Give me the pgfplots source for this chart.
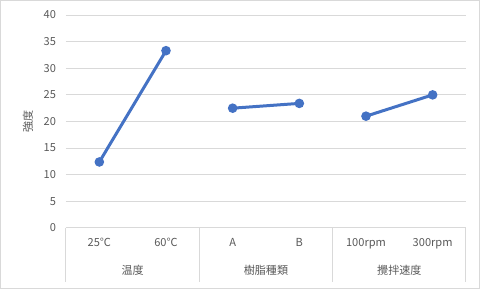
\documentclass[border=0pt]{standalone}
\usepackage{fontspec}
\setmainfont{Noto Sans CJK JP}
\usepackage{pgfplots}
\pgfplotsset{compat=1.18}
\definecolor{ser}{HTML}{4472C4}
\definecolor{txt}{HTML}{595959}
\definecolor{grd}{HTML}{D9D9D9}
\begin{document}
\begin{tikzpicture}
\useasboundingbox (-49.5pt,-45.75pt) rectangle (310.5pt,171pt);
\draw[grd, line width=0.75pt] (-49.1pt,-45.35pt) rectangle (310.1pt,170.6pt);
\begin{axis}[
  at={(0,0)}, anchor=south west,
  scale only axis, width=300pt, height=159.75pt,
  xmin=-0.5, xmax=5.5, ymin=0, ymax=40,
  xtick={0,1,2,3,4,5},
  xticklabels={25℃,60℃,A,B,100rpm,300rpm},
  ytick={0,5,...,40},
  ymajorgrids, grid style={grd, line width=0.75pt},
  axis x line*=bottom, axis y line*=left,
  x axis line style={grd, line width=0.75pt, -},
  y axis line style={draw=none},
  major tick length=0pt,
  tick label style={font=\fontsize{8.3}{9}\selectfont, text=txt},
  /pgf/number format/assume math mode=true,
  xticklabel style={yshift=-4pt},
  yticklabel style={xshift=-4pt},
  ylabel={強度}, ylabel style={font=\fontsize{8.3}{9}\selectfont, text=txt, yshift=1pt},
  clip=false,
]
\addplot[ser, line width=2.25pt, mark=*, mark size=2.4pt] coordinates {(0,12.4) (1,33.3)};
\addplot[ser, line width=2.25pt, mark=*, mark size=2.4pt] coordinates {(2,22.5) (3,23.4)};
\addplot[ser, line width=2.25pt, mark=*, mark size=2.4pt] coordinates {(4,21.0) (5,25.0)};
\foreach \xx in {-0.5,1.5,3.5,5.5} {
  \edef\tmp{\noexpand\draw[grd, line width=0.75pt] (axis cs:\xx,0) -- ([yshift=-40.5pt]axis cs:\xx,0);}
  \tmp
}
\node[font=\fontsize{8.3}{9}\selectfont, text=txt] at ([yshift=-31.5pt]axis cs:0.5,0) {温度};
\node[font=\fontsize{8.3}{9}\selectfont, text=txt] at ([yshift=-31.5pt]axis cs:2.5,0) {樹脂種類};
\node[font=\fontsize{8.3}{9}\selectfont, text=txt] at ([yshift=-31.5pt]axis cs:4.5,0) {攪拌速度};
\end{axis}
\end{tikzpicture}
\end{document}
